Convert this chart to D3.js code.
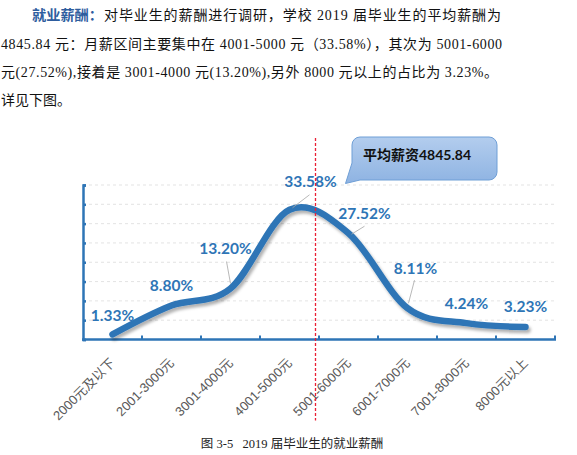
<!DOCTYPE html>
<html>
<head>
<meta charset="utf-8">
<script src="https://cdn.jsdelivr.net/npm/d3@7"></script>
<style>
  html, body { margin: 0; padding: 0; background: #fff; }
</style>
</head>
<body>
<div id="chart"></div>
<script>
// data
const categories = ["2000元及以下", "2001-3000元", "3001-4000元", "4001-5000元",
                    "5001-6000元", "6001-7000元", "7001-8000元", "8000元以上"];
const shares = [1.33, 8.80, 13.20, 33.58, 27.52, 8.11, 4.24, 3.23];
const yTicks = [0, 5, 10, 15, 20, 25, 30, 35, 40];
const meanSalary = 4845.84;
const introLead = "就业薪酬：";
const introLines = [
    "对毕业生的薪酬进行调研，学校 2019 届毕业生的平均薪酬为",
    "4845.84 元：月薪区间主要集中在 4001-5000 元（33.58%），其次为 5001-6000",
    "元(27.52%),接着是 3001-4000 元(13.20%),另外 8000 元以上的占比为 3.23%。",
    "详见下图。"
];
const caption = "图 3-5   2019 届毕业生的就业薪酬";

const width = 577;
const height = 455;
const margin = {top: 185, right: 22, bottom: 115.5, left: 83};

const svg = d3.select('#chart').append('svg')
    .attr('width', width)
    .attr('height', height)
    .style('display', 'block');

const defs = svg.append('defs');
defs.append('filter')
    .attr('id', 'shadow')
    .attr('x', '-10%').attr('y', '-20%').attr('width', '130%').attr('height', '160%')
    .append('feDropShadow')
    .attr('dx', 2).attr('dy', 3).attr('stdDeviation', 1.8)
    .attr('flood-color', '#000').attr('flood-opacity', 0.3);
const grad = defs.append('linearGradient')
    .attr('id', 'calloutFill')
    .attr('x1', 0).attr('y1', 0).attr('x2', 0).attr('y2', 1);
grad.append('stop').attr('offset', '0%').attr('stop-color', '#b3cdee');
grad.append('stop').attr('offset', '100%').attr('stop-color', '#8eb3e2');

// paragraph above the chart
const serif = '"Liberation Serif", "Noto Sans CJK SC", serif';
const baselines = [20, 48.5, 76.5, 105];
const lineSpans = [[104, 501], [1, 502], [1, 498], null];

svg.append('text')
    .attr('x', 32).attr('y', baselines[0])
    .attr('font-family', '"Noto Sans CJK SC", sans-serif')
    .attr('font-weight', 'bold')
    .attr('font-size', 14)
    .attr('fill', '#2e5d9e')
    .attr('textLength', 71)
    .attr('lengthAdjust', 'spacingAndGlyphs')
    .text(introLead);

introLines.forEach((line, i) => {
    const t = svg.append('text')
        .attr('x', lineSpans[i] ? lineSpans[i][0] : 1)
        .attr('y', baselines[i])
        .attr('font-family', serif)
        .attr('font-size', 14)
        .attr('fill', '#111')
        .text(line);
    if (lineSpans[i]) {
        t.attr('textLength', lineSpans[i][1] - lineSpans[i][0])
         .attr('lengthAdjust', 'spacing');
    }
});

const innerW = width - margin.left - margin.right;
const innerH = height - margin.top - margin.bottom;

const x = d3.scaleBand()
    .domain(categories)
    .range([0, innerW]);

const y = d3.scaleLinear()
    .domain([0, 40])
    .range([innerH, 0]);

const g = svg.append('g')
    .attr('transform', `translate(${margin.left},${margin.top})`);

const blue = '#2e75b6';

// dotted grid
g.append('g')
    .selectAll('line')
    .data(yTicks.filter(d => d > 0))
    .enter()
    .append('line')
    .attr('x1', 0).attr('x2', innerW)
    .attr('y1', d => y(d)).attr('y2', d => y(d))
    .attr('stroke', '#dcdcdc')
    .attr('stroke-width', 0.8)
    .attr('stroke-dasharray', '3,3');

// y axis, ticks pointing inward
const yAxis = g.append('g')
    .call(d3.axisLeft(y).tickValues(yTicks).tickSize(-3).tickFormat(''));
yAxis.select('.domain').attr('stroke', blue).attr('stroke-width', 2.5);
yAxis.selectAll('.tick line').attr('stroke', blue).attr('stroke-width', 2.5);

// x axis with ticks on the band boundaries
const xAxis = g.append('g')
    .attr('transform', `translate(0,${innerH})`);
xAxis.append('line')
    .attr('x1', -1).attr('x2', innerW + 1)
    .attr('stroke', blue).attr('stroke-width', 2.5);
xAxis.selectAll('line.tick')
    .data(categories)
    .enter()
    .append('line')
    .attr('class', 'tick')
    .attr('x1', d => x(d) + x.bandwidth())
    .attr('x2', d => x(d) + x.bandwidth())
    .attr('y1', 0).attr('y2', -4)
    .attr('stroke', blue).attr('stroke-width', 2);
xAxis.selectAll('text')
    .data(categories)
    .enter()
    .append('text')
    .attr('transform', d => `translate(${x(d) + x.bandwidth() / 2},${21}) rotate(-45)`)
    .attr('text-anchor', 'end')
    .attr('dy', '0.35em')
    .attr('font-family', '"Liberation Sans", "Noto Sans CJK SC", sans-serif')
    .attr('font-size', 13)
    .attr('fill', '#595959')
    .text(d => d);

// the curve (Excel-style smoothing)
const pts = categories.map((c, i) => [x(c) + x.bandwidth() / 2, y(shares[i])]);
const line = d3.line().curve(d3.curveCardinal.tension(0));

g.append('path')
    .attr('d', line(pts))
    .attr('fill', 'none')
    .attr('stroke', blue)
    .attr('stroke-width', 6.5)
    .attr('stroke-linecap', 'round')
    .attr('stroke-linejoin', 'round')
    .attr('filter', 'url(#shadow)');

// data labels (offsets from the point) and leader lines
const labelOffsets = [[0, -19], [0, -20], [-5, -40], [21, -28], [16, -20], [8, -40], [0, -20], [0, -20]];
const leaders = [null, null, [[-4, -27], [0, -5]], [[20, -15], [3, -2]], [[16, -7], [3, 1]], [[7, -28], [1, -5]], null, null];

g.append('g')
    .selectAll('line')
    .data(pts.map((p, i) => ({p, l: leaders[i]})).filter(d => d.l))
    .enter()
    .append('line')
    .attr('x1', d => d.p[0] + d.l[0][0]).attr('y1', d => d.p[1] + d.l[0][1])
    .attr('x2', d => d.p[0] + d.l[1][0]).attr('y2', d => d.p[1] + d.l[1][1])
    .attr('stroke', '#a6a6a6')
    .attr('stroke-width', 0.8);

g.append('g')
    .selectAll('text')
    .data(shares)
    .enter()
    .append('text')
    .attr('x', (d, i) => pts[i][0] + labelOffsets[i][0])
    .attr('y', (d, i) => pts[i][1] + labelOffsets[i][1])
    .attr('dy', '0.35em')
    .attr('text-anchor', 'middle')
    .attr('font-family', 'Lato, "Open Sans", sans-serif')
    .attr('font-weight', 'bold')
    .attr('font-size', 15.5)
    .attr('fill', blue)
    .text(d => d.toFixed(2) + '%');

// mean marker: red dotted line, placed inside the 4001-5000 band
const meanX = Math.round(x(categories[3]) + x.bandwidth() * 0.94) + 0.5;
g.append('line')
    .attr('x1', meanX).attr('x2', meanX)
    .attr('y1', -47).attr('y2', innerH + 81)
    .attr('stroke', '#ea1f35')
    .attr('stroke-width', 1.3)
    .attr('stroke-dasharray', '3,2');

// callout
const bx0 = 352, by0 = 137, bx1 = 497, by1 = 180, r = 8;
const cp = d3.path();
cp.moveTo(bx0 + r, by0);
cp.lineTo(bx1 - r, by0);
cp.arcTo(bx1, by0, bx1, by0 + r, r);
cp.lineTo(bx1, by1 - r);
cp.arcTo(bx1, by1, bx1 - r, by1, r);
cp.lineTo(bx0 + 8, by1);
cp.lineTo(margin.left + meanX + 30, 183.5);
cp.lineTo(bx0, by1 - 17);
cp.lineTo(bx0, by0 + r);
cp.arcTo(bx0, by0, bx0 + r, by0, r);
cp.closePath();

svg.append('path')
    .attr('d', cp.toString())
    .attr('fill', 'url(#calloutFill)')
    .attr('stroke', '#6f9fd6')
    .attr('stroke-width', 1);

svg.append('text')
    .attr('x', 363)
    .attr('y', 155)
    .attr('dy', '0.35em')
    .attr('font-family', 'Lato, "Noto Sans CJK SC", sans-serif')
    .attr('font-weight', 'bold')
    .attr('font-size', 14)
    .attr('fill', '#111')
    .text('平均薪资' + meanSalary.toFixed(2));

// caption
svg.append('text')
    .attr('x', 292)
    .attr('y', 447.5)
    .attr('text-anchor', 'middle')
    .attr('font-family', serif)
    .attr('font-size', 12.5)
    .attr('fill', '#222')
    .attr('xml:space', 'preserve')
    .style('white-space', 'pre')
    .text(caption);
</script>
</body>
</html>
